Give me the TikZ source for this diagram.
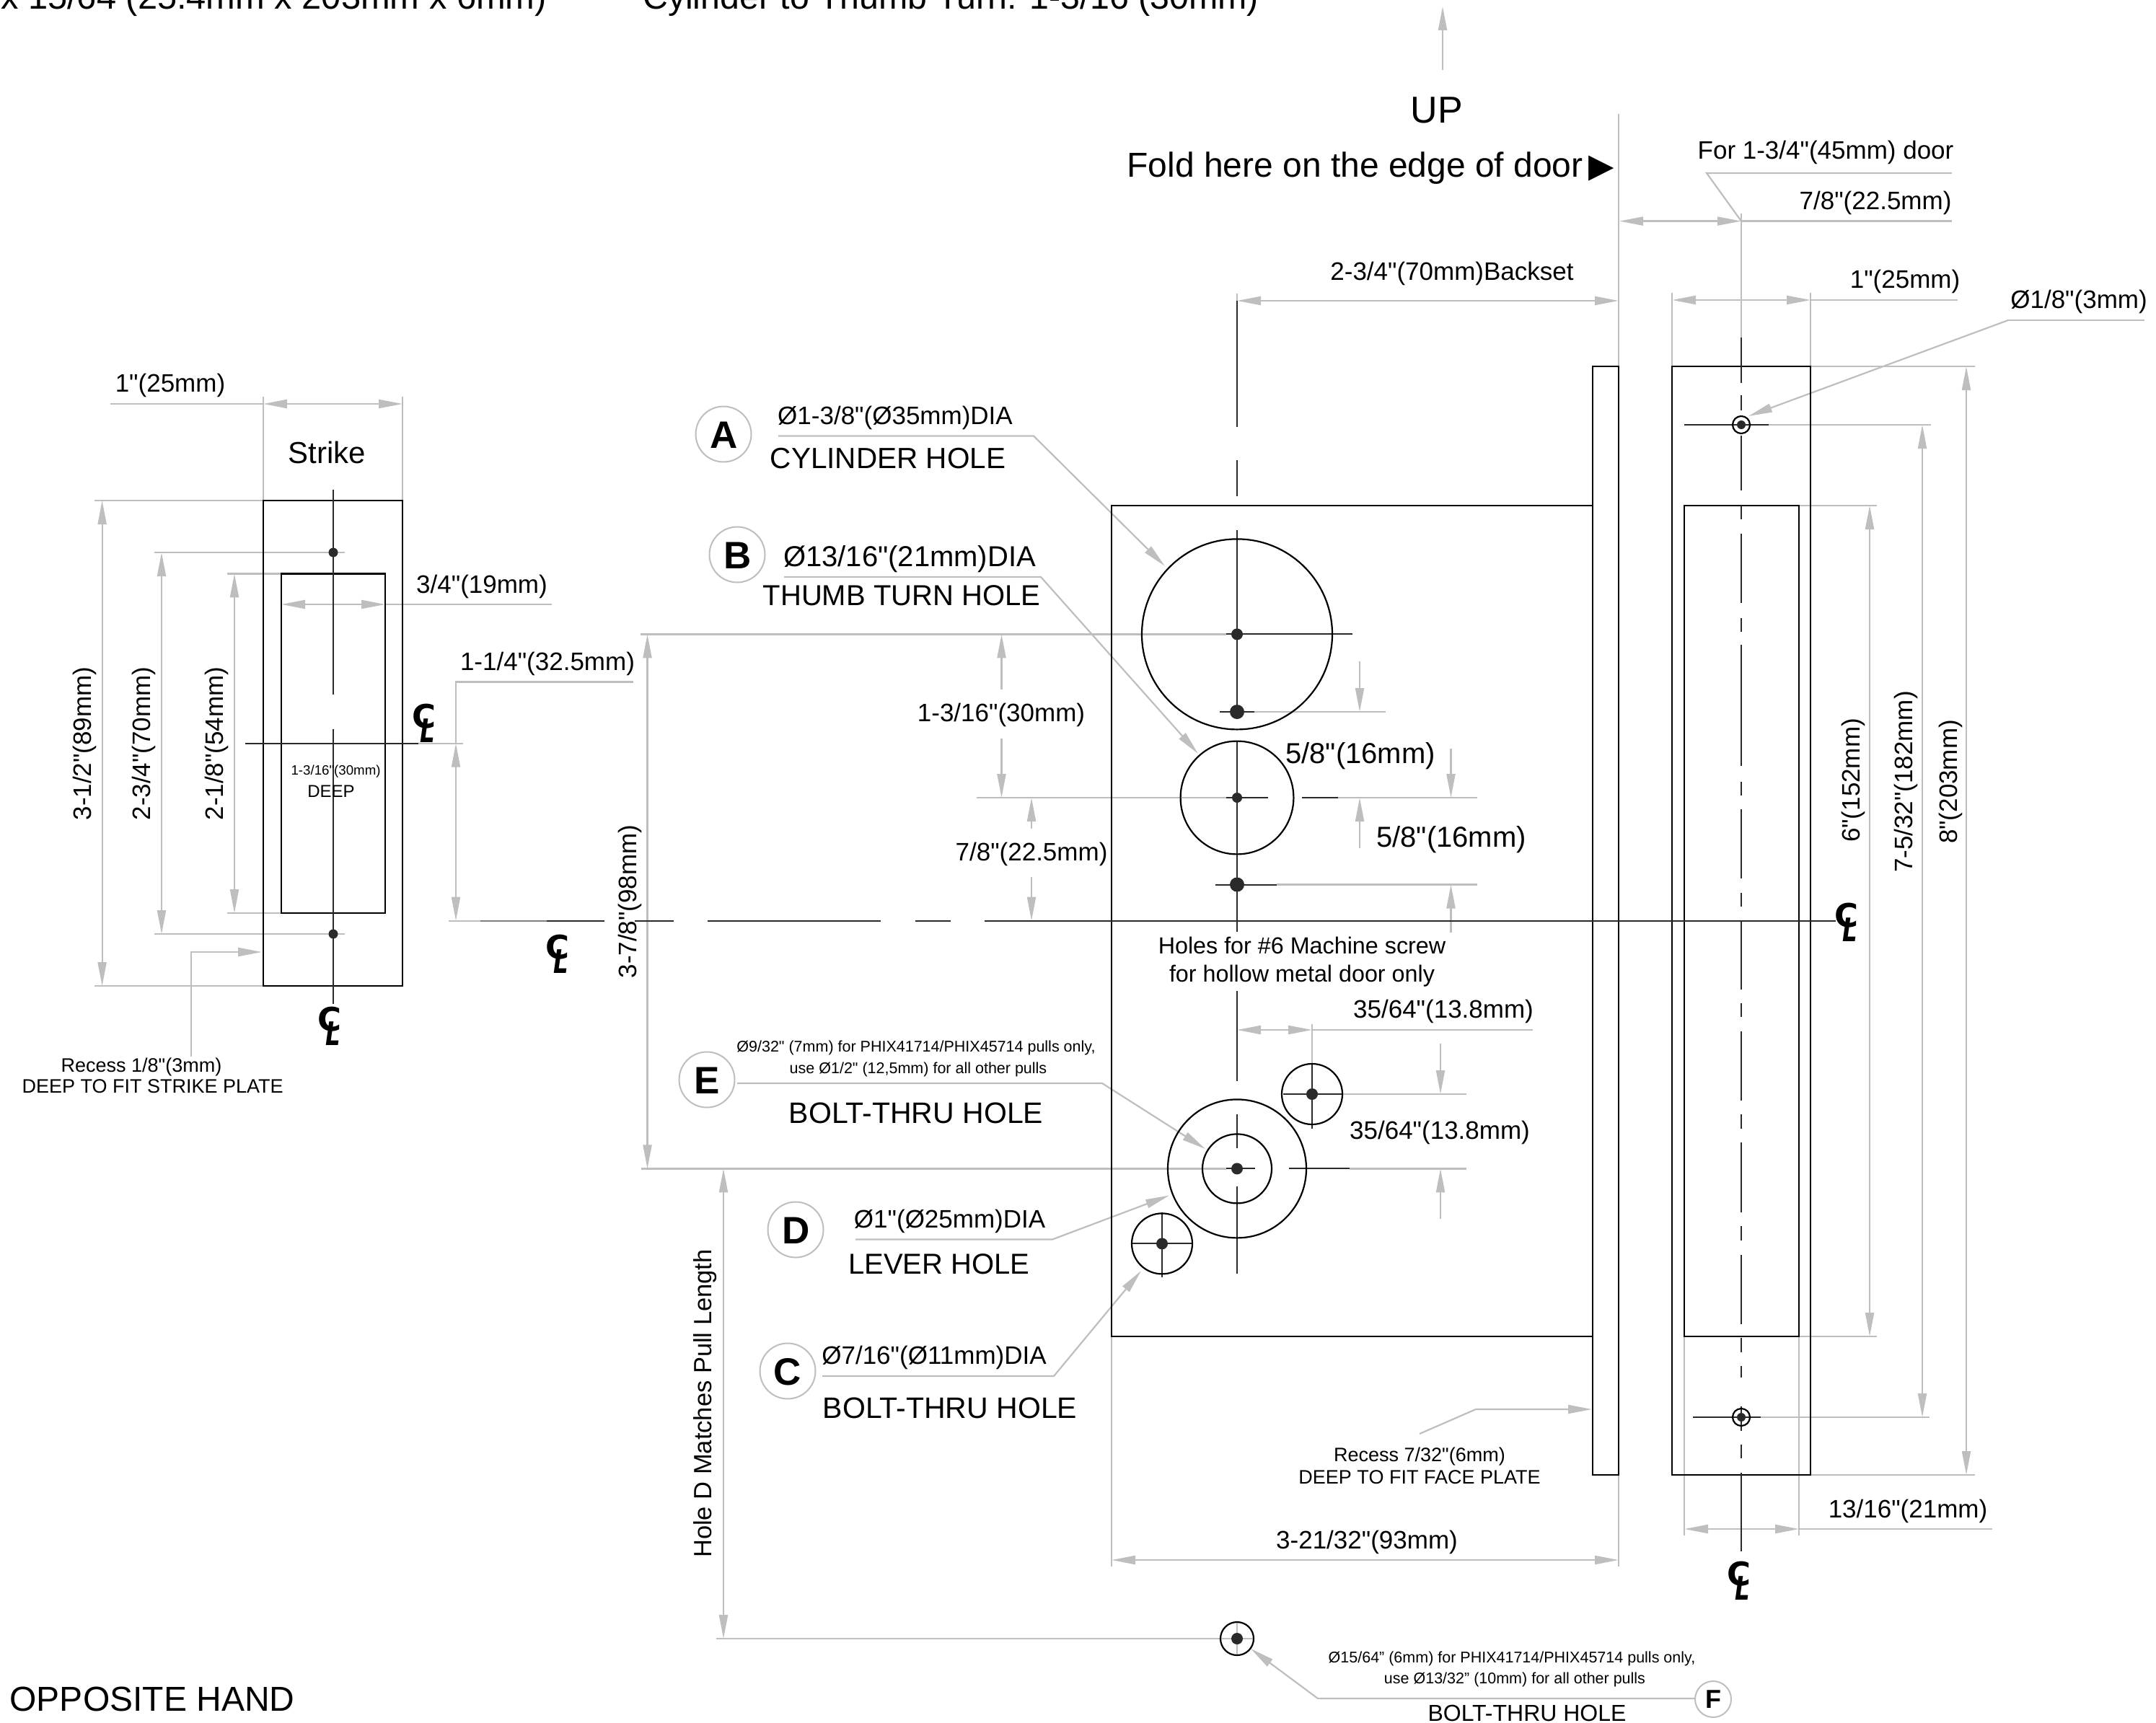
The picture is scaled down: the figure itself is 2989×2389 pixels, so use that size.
\documentclass[tikz,border=0pt]{standalone}
\usepackage{fontspec}
\newfontfamily\libfont{Liberation Sans}
\newfontfamily\dvfont{DejaVu Sans}
\usetikzlibrary{arrows.meta}
\definecolor{gy}{HTML}{BEBEBE}
\definecolor{md}{HTML}{808080}
\definecolor{dk}{HTML}{2A2A2A}
\newcommand{\fz}[1]{\libfont\fontsize{#1}{#1}\selectfont}
\newcommand{\clmark}{\dvfont\fontsize{45}{45}\selectfont\bfseries\makebox[0pt]{\raisebox{10pt}{C}}\makebox[0pt]{\raisebox{-10pt}{\kern9pt\scalebox{.72}[1]{\itshape L}}}}
\tikzset{
  Gt/.tip={Triangle[length=33pt,width=12pt]},
  gl/.style={draw=gy,line width=2.2pt},
  ar/.style={gl,-Gt},
  dar/.style={gl,Gt-Gt},
  bl/.style={draw=black,line width=2.8pt},
  cl/.style={draw=dk,line width=2pt},
  ring/.style={draw=black,line width=2.2pt},
  dot/.style={fill=dk},
  bub/.style={draw=gy,line width=2pt,circle,fill=white,inner sep=0pt,minimum size=#1},
  T/.style={font=\fz{#1},inner sep=0pt,text height=#1*0.72pt,text depth=0pt,anchor=center},
  B/.style={font=\fz{#1}\bfseries,inner sep=0pt,text height=#1*0.72pt,text depth=0pt,anchor=center},
  CL/.style={inner sep=0pt,anchor=base},
}
\begin{document}
\begin{tikzpicture}[x=1pt,y=-1pt]
\useasboundingbox (0,0) rectangle (2989,2389);
\clip (0,0) rectangle (2989,2389);
% ---------- grey extension and dimension lines ----------
% strike
\draw[gl] (153,560)--(365,560) (365,550)--(365,694) (558,550)--(558,694);
\draw[dar] (365,560)--(558,560);
\draw[gl] (131,694)--(365,694) (131,1367)--(365,1367);
\draw[dar] (141.6,694)--(141.6,1367);
\draw[gl] (214,766)--(478,766) (214,1295)--(478,1295);
\draw[dar] (224,766)--(224,1295);
\draw[gl] (315,795.4)--(390,795.4) (315,1266)--(390,1266);
\draw[dar] (325,795.4)--(325,1266);
\draw[dar] (390,838)--(534,838);
\draw[gl] (534,838)--(765,838) (390,828)--(390,848) (534,828)--(534,848);
\draw[ar] (265,1465)--(265,1320)--(363,1320);
\draw[gl] (580,1030.6)--(642,1030.6) (622,1276.6)--(666,1276.6);
\draw[gl] (878,945.4)--(632,945.4)--(632,1030);
\draw[dar] (632,1030.6)--(632,1276.6);
% main vertical dims
\draw[gl] (888,879.4)--(1700,879.4) (889,1620.4)--(1700,1620.4);
\draw[dar] (897.5,879.4)--(897.5,1620.4);
\draw[ar] (1388.5,956)--(1388.5,879.4);
\draw[ar] (1388.5,1023.5)--(1388.5,1106);
\draw[gl] (1354,1106)--(1700,1106) (1855,1106)--(2048,1106);
\draw[ar] (1430,1149)--(1430,1106);
\draw[ar] (1430,1216)--(1430,1276.6);
\draw[gl] (1739,987)--(1921,987);
\draw[ar] (1885,917)--(1885,987);
\draw[ar] (1885,1176)--(1885,1106);
\draw[gl] (1770,1226.5)--(2048,1226.5);
\draw[ar] (2011.5,1038)--(2011.5,1106);
\draw[ar] (2011.5,1293)--(2011.5,1226.5);
\draw[gl] (1860,1517)--(2033,1517) (1871,1620.4)--(2033,1620.4);
\draw[ar] (1997,1447)--(1997,1517);
\draw[ar] (1997,1690)--(1997,1620.4);
\draw[dar] (1715,1428)--(1819,1428);
\draw[gl] (1819,1428)--(2125,1428) (1819,1420)--(1819,1475);
% top right dims
\draw[ar] (2000,97)--(2000,9);
\draw[gl] (2244,158)--(2244,2172);
\draw[dar] (1715,417)--(2244,417);
\draw[gl] (1715,407)--(1715,417);
\draw[dar] (2245,306.6)--(2414,306.6);
\draw[gl] (2414,306.6)--(2706,306.6) (2414,296)--(2414,468);
\draw[gl] (2706,240)--(2366,240)--(2414,306.6);
\draw[dar] (2318,416)--(2510,416);
\draw[gl] (2510,416)--(2714,416) (2318,406)--(2318,508) (2510,406)--(2510,508);
\draw[gl] (2973,444)--(2784,444);
\draw[ar] (2784,444)--(2424,577);
\draw[gl] (2510,508)--(2738,508) (2510,2045)--(2738,2045);
\draw[dar] (2726,508)--(2726,2045);
\draw[gl] (2452,589)--(2677,589) (2441,1965)--(2675,1965);
\draw[dar] (2665,589)--(2665,1965);
\draw[gl] (2494,701)--(2602,701) (2494,1853)--(2602,1853);
\draw[dar] (2592,701)--(2592,1853);
\draw[gl] (2335,1853)--(2335,2129) (2494,1853)--(2494,2129);
\draw[dar] (2335,2120)--(2494,2120);
\draw[gl] (2494,2120)--(2762,2120);
\draw[gl] (1541,1853)--(1541,2172);
\draw[dar] (1541,2163)--(2244,2163);
\draw[ar] (1968,1988)--(2046,1954)--(2207,1954);
% pull length
\draw[gl] (993,2272)--(1738,2272) (1715,2250)--(1715,2294);
\draw[dar] (1003,1620.4)--(1003,2272);
% leaders
\draw[ar] (1079,604.5)--(1433,604.5)--(1615,785);
\draw[ar] (1087,800)--(1443,800)--(1661,1045);
\draw[ar] (1022,1502)--(1528,1502)--(1671,1593);
\draw[ar] (1186,1718.5)--(1459,1718.5)--(1621,1657.5);
\draw[ar] (1140,1908)--(1461,1908)--(1582,1762);
\draw[ar] (2350,2355)--(1827,2355)--(1734,2286);
% ---------- outlines ----------
\draw[bl] (365,694) rectangle (558,1367);
\draw[bl] (390,795.4) rectangle (534,1266);
\draw[bl] (2208,701)--(1541,701)--(1541,1853)--(2208,1853);
\draw[bl] (2208,508) rectangle (2244,2045);
\draw[bl] (2318,508) rectangle (2510,2045);
\draw[bl] (2335,1853)--(2335,701)--(2494,701)--(2494,1853)--cycle;
% ---------- centre lines ----------
\draw[cl] (462,678.6)--(462,963) (462,1011)--(462,1392) (340,1030.6)--(580,1030.6);
\draw[draw=md,line width=2pt] (666,1276.6)--(758,1276.6);
\draw[cl] (758,1276.6)--(838,1276.6) (880,1276.6)--(934,1276.6) (981,1276.6)--(1221,1276.6)
          (1269,1276.6)--(1318,1276.6) (1365,1276.6)--(2545,1276.6);
\draw[cl] (1715,417)--(1715,592) (1715,638)--(1715,688) (1715,735)--(1715,986) (1715,1028)--(1715,1292)
          (1715,1374)--(1715,1499) (1715,1545)--(1715,1592) (1715,1645)--(1715,1766);
\draw[cl] (1700,879.4)--(1875,879.4) (1691,987)--(1739,987) (1700,1106)--(1758,1106) (1805,1106)--(1855,1106)
          (1685,1226.5)--(1770,1226.5) (1700,1620.4)--(1740,1620.4) (1787,1620.4)--(1871,1620.4);
\draw[cl] (1779,1517)--(1860,1517) (1819,1475)--(1819,1565) (1569,1724.4)--(1653,1724.4) (1611,1681)--(1611,1771);
\draw[cl] (2414,468)--(2414,531) (2414,548)--(2414,569) (2414,604)--(2414,680)
  (2414,701)--(2414,720) (2414,740)--(2414,836) (2414,857)--(2414,876) (2414,894)--(2414,1062)
  (2414,1084)--(2414,1103) (2414,1122)--(2414,1218) (2414,1238)--(2414,1257) (2414,1276)--(2414,1372)
  (2414,1391)--(2414,1410) (2414,1430)--(2414,1526) (2414,1545)--(2414,1565) (2414,1584)--(2414,1681)
  (2414,1700)--(2414,1720) (2414,1740)--(2414,1836) (2414,1855)--(2414,1875)
  (2414,1894)--(2414,1910) (2414,1950)--(2414,1984) (2414,2003)--(2414,2022) (2414,2042)--(2414,2151);
\draw[cl] (2335,589)--(2452,589) (2347,1965)--(2441,1965);
% ---------- holes ----------
\draw[ring] (1715,879.4) circle[radius=132pt];
\draw[ring] (1715,1106) circle[radius=78.4pt];
\draw[ring] (1715,1620.4) circle[radius=96pt] (1715,1620.4) circle[radius=48pt];
\draw[ring] (1819,1517) circle[radius=42pt] (1611,1724.4) circle[radius=42pt];
\draw[ring] (2414,589) circle[radius=12pt] (2414,1965) circle[radius=12pt];
\draw[ring] (1715,2272) circle[radius=23pt];
\fill[dot] (462,766) circle[radius=6.5pt] (462,1295) circle[radius=6.5pt]
  (1715,879.4) circle[radius=8pt] (1715,987) circle[radius=10pt] (1715,1106) circle[radius=7pt]
  (1715,1226.5) circle[radius=10pt] (1715,1620.4) circle[radius=8pt] (1819,1517) circle[radius=8pt]
  (1611,1724.4) circle[radius=8pt] (2414,589) circle[radius=6pt] (2414,1965) circle[radius=6pt]
  (1715,2272) circle[radius=8pt];
% ---------- header ----------
\node[font=\fz{48.8},inner sep=0pt,anchor=base west] (hdrA) at (1,13) {x 15/64 (25.4mm x 203mm x 6mm)};
\node[font=\fz{48.3},inner sep=0pt,anchor=base west] (hdrB) at (891,13) {Cylinder to Thumb Turn: 1-3/16 (30mm)};
\node[T=52] (up) at (1992,151.5) {UP};
\node[font=\fz{48},inner sep=0pt,anchor=base east] (fold) at (2195,246) {Fold here on the edge of door};
\node[font=\dvfont\fontsize{46}{46}\selectfont,inner sep=0pt,anchor=base west] (foldmark) at (2202,246) {▶};
% ---------- strike labels ----------
\node[T=35] (s1) at (236,531) {1"(25mm)};
\node[T=42] (s2) at (453,627) {Strike};
\node[T=35,rotate=90] (s3) at (113.5,1031) {3-1/2"(89mm)};
\node[T=35,rotate=90] (s4) at (196,1031) {2-3/4"(70mm)};
\node[T=35,rotate=90] (s5) at (296.6,1031) {2-1/8"(54mm)};
\node[T=35] (s6) at (668,810) {3/4"(19mm)};
\node[T=35] (s7) at (759,917) {1-1/4"(32.5mm)};
\node[T=18.7] (s8) at (465.6,1068) {1-3/16"(30mm)};
\node[T=24] (s9) at (459,1097) {DEEP};
\node[T=27] (s10) at (196,1476.5) {Recess 1/8"(3mm)};
\node[T=27] (s11) at (211.6,1506) {DEEP TO FIT STRIKE PLATE};
\node[T=35,rotate=90] (m1) at (870,1250) {3-7/8"(98mm)};
% ---------- centre-line marks ----------
\node[CL] (c1) at (588,1019) {\clmark};
\node[CL] (c2) at (457,1439) {\clmark};
\node[CL] (c3) at (773,1339) {\clmark};
\node[CL] (c4) at (2560,1295) {\clmark};
\node[CL] (c5) at (2411,2208) {\clmark};
% ---------- callouts ----------
\node[bub=77pt] (bA) at (1003,602) {}; \node[B=53] (lA) at (1004,602) {A};
\node[bub=77pt] (bB) at (1022,769) {}; \node[B=53] (lB) at (1023,769) {B};
\node[bub=77pt] (bE) at (980,1497) {}; \node[B=53] (lE) at (980,1497) {E};
\node[bub=77pt] (bD) at (1103,1705) {}; \node[B=53] (lD) at (1104,1705) {D};
\node[bub=77pt] (bC) at (1092,1901) {}; \node[B=53] (lC) at (1092,1901) {C};
\node[bub=50pt] (bF) at (2375,2356) {}; \node[B=36] (lF) at (2375,2356) {F};
\node[T=35] (a1) at (1241,576) {Ø1-3/8"(Ø35mm)DIA};
\node[T=40.5] (a2) at (1231,635) {CYLINDER HOLE};
\node[T=40] (b1) at (1261,771.5) {Ø13/16"(21mm)DIA};
\node[T=40] (b2) at (1250,825.5) {THUMB TURN HOLE};
\node[T=35] (d1) at (1388,988) {1-3/16"(30mm)};
\node[T=35] (d2) at (1430,1181) {7/8"(22.5mm)};
\node[T=40] (d3) at (1886,1043.6) {5/8"(16mm)};
\node[T=40] (d4) at (2012,1160) {5/8"(16mm)};
\node[T=32.3] (h1) at (1805,1311) {Holes for \#6 Machine screw};
\node[T=32.3] (h2) at (1805,1350) {for hollow metal door only};
\node[T=35] (d5) at (2001,1399) {35/64"(13.8mm)};
\node[T=35] (d6) at (1996,1567) {35/64"(13.8mm)};
\node[T=21.5] (e1) at (1270,1451) {Ø9/32" (7mm) for PHIX41714/PHIX45714 pulls only,};
\node[T=21.5] (e2) at (1273,1480.5) {use Ø1/2" (12,5mm) for all other pulls};
\node[T=41] (e3) at (1270,1543) {BOLT-THRU HOLE};
\node[T=35] (f1) at (1316.6,1690) {Ø1"(Ø25mm)DIA};
\node[T=40] (f2) at (1301.7,1751.6) {LEVER HOLE};
\node[T=35] (g1) at (1295,1879) {Ø7/16"(Ø11mm)DIA};
\node[T=41] (g2) at (1317,1952) {BOLT-THRU HOLE};
\node[T=34.5,rotate=90] (p1) at (974,1946) {Hole D Matches Pull Length};
\node[T=35] (r1) at (2531,208) {For 1-3/4"(45mm) door};
\node[T=35] (r2) at (2600,278) {7/8"(22.5mm)};
\node[T=35] (r3) at (2013,376) {2-3/4"(70mm)Backset};
\node[T=35] (r4) at (2641,387) {1"(25mm)};
\node[T=35] (r5) at (2882,415) {Ø1/8"(3mm)};
\node[T=35,rotate=90] (r6) at (2566,1082) {6"(152mm)};
\node[T=35,rotate=90] (r7) at (2639,1084) {7-5/32"(182mm)};
\node[T=35,rotate=90] (r8) at (2701,1084) {8"(203mm)};
\node[T=35] (r9) at (2645,2092) {13/16"(21mm)};
\node[T=35] (r10) at (1895,2135) {3-21/32"(93mm)};
\node[T=27] (r11) at (1968,2017) {Recess 7/32"(6mm)};
\node[T=27] (r12) at (1968,2048) {DEEP TO FIT FACE PLATE};
\node[T=21.5] (k1) at (2096,2298) {Ø15/64” (6mm) for PHIX41714/PHIX45714 pulls only,};
\node[T=21.5] (k2) at (2100,2327) {use Ø13/32” (10mm) for all other pulls};
\node[T=32] (k3) at (2117,2375) {BOLT-THRU HOLE};
\node[T=48] (o1) at (211,2355) {OPPOSITE HAND};
\end{tikzpicture}
\end{document}
